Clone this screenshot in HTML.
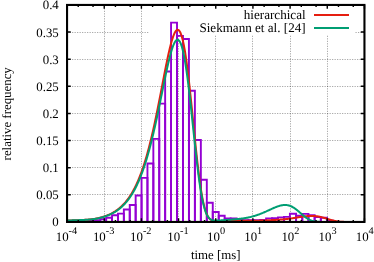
<!DOCTYPE html><html><head><meta charset="utf-8"><style>html,body{margin:0;padding:0;background:#fff}svg{display:block}text{font-family:"Liberation Serif",serif;fill:#000;text-rendering:geometricPrecision}</style></head><body>
<svg width="374" height="262" viewBox="0 0 374 262">
<rect width="374" height="262" fill="#fff"/>
<g stroke="#000" stroke-opacity="0.39" stroke-width="0.9" stroke-dasharray="1.2 1.3" fill="none">
<path d="M104.50 221.95 V4.95"/>
<path d="M141.50 221.95 V4.95"/>
<path d="M178.50 221.95 V35.00"/>
<path d="M215.50 221.95 V35.00"/>
<path d="M252.50 221.95 V35.00"/>
<path d="M290.50 221.95 V35.00"/>
<path d="M327.50 221.95 V35.00"/>
<path d="M67.05 194.50 H364.45"/>
<path d="M67.05 167.50 H364.45"/>
<path d="M67.05 140.50 H364.45"/>
<path d="M67.05 113.50 H364.45"/>
<path d="M67.05 86.50 H364.45"/>
<path d="M67.05 59.50 H364.45"/>
<path d="M67.05 32.50 H148.50 M355.5 32.50 H364.45"/>
</g>
<g stroke="#9400D3" stroke-width="1.9" fill="none" stroke-linejoin="miter">
<path d="M88.45 221.95 V220.60 H94.35 V221.95"/>
<path d="M94.35 221.95 V220.30 H100.25 V221.95"/>
<path d="M100.25 221.95 V219.30 H106.15 V221.95"/>
<path d="M106.15 221.95 V217.80 H112.05 V221.95"/>
<path d="M112.05 221.95 V215.30 H117.95 V221.95"/>
<path d="M117.95 221.95 V213.60 H123.85 V221.95"/>
<path d="M123.85 221.95 V209.50 H129.75 V221.95"/>
<path d="M129.75 221.95 V205.00 H135.65 V221.95"/>
<path d="M135.65 221.95 V195.50 H141.55 V221.95"/>
<path d="M141.55 221.95 V177.90 H147.45 V221.95"/>
<path d="M147.45 221.95 V163.50 H153.35 V221.95"/>
<path d="M153.35 221.95 V138.90 H159.25 V221.95"/>
<path d="M159.25 221.95 V103.60 H165.15 V221.95"/>
<path d="M165.15 221.95 V71.50 H171.05 V221.95"/>
<path d="M171.05 221.95 V22.60 H177.01 V221.95"/>
<path d="M177.01 221.95 V35.90 H182.97 V221.95"/>
<path d="M182.97 221.95 V39.00 H188.93 V221.95"/>
<path d="M188.93 221.95 V90.80 H194.89 V221.95"/>
<path d="M194.89 221.95 V140.00 H200.85 V221.95"/>
<path d="M200.85 221.95 V179.80 H206.81 V221.95"/>
<path d="M206.81 221.95 V202.80 H212.77 V221.95"/>
<path d="M212.77 221.95 V212.00 H218.73 V221.95"/>
<path d="M218.73 221.95 V215.70 H224.69 V221.95"/>
<path d="M224.69 221.95 V218.40 H230.65 V221.95"/>
<path d="M230.65 221.95 V218.50 H236.61 V221.95"/>
<path d="M236.61 221.95 V220.00 H242.51 V221.95"/>
<path d="M242.51 221.95 V220.30 H248.41 V221.95"/>
<path d="M248.41 221.95 V220.30 H254.30 V221.95"/>
<path d="M254.30 221.95 V220.30 H260.20 V221.95"/>
<path d="M260.20 221.95 V220.00 H266.10 V221.95"/>
<path d="M266.10 221.95 V218.40 H272.05 V221.95"/>
<path d="M272.05 221.95 V218.10 H278.00 V221.95"/>
<path d="M278.00 221.95 V217.40 H283.95 V221.95"/>
<path d="M283.95 221.95 V216.90 H289.90 V221.95"/>
<path d="M289.90 221.95 V213.80 H296.08 V221.95"/>
<path d="M296.08 221.95 V215.80 H302.27 V221.95"/>
<path d="M302.27 221.95 V213.90 H308.45 V221.95"/>
<path d="M308.45 221.95 V215.10 H314.63 V221.95"/>
<path d="M314.63 221.95 V217.10 H320.82 V221.95"/>
<path d="M320.82 221.95 V217.80 H327.00 V221.95"/>
<path d="M327.00 221.95 V220.60 H333.15 V221.95"/>
</g>
<path d="M67.05 220.60 L67.55 220.58 L68.04 220.56 L68.54 220.53 L69.03 220.51 L69.53 220.49 L70.02 220.47 L70.52 220.45 L71.02 220.43 L71.51 220.41 L72.01 220.39 L72.50 220.37 L73.00 220.35 L73.49 220.33 L73.99 220.32 L74.48 220.30 L74.98 220.28 L75.48 220.26 L75.97 220.24 L76.47 220.22 L76.96 220.20 L77.46 220.18 L77.95 220.16 L78.45 220.14 L78.95 220.12 L79.44 220.10 L79.94 220.08 L80.43 220.06 L80.93 220.04 L81.42 220.02 L81.92 219.99 L82.42 219.97 L82.91 219.95 L83.41 219.92 L83.90 219.89 L84.40 219.87 L84.89 219.84 L85.39 219.81 L85.89 219.77 L86.38 219.74 L86.88 219.70 L87.37 219.67 L87.87 219.63 L88.36 219.58 L88.86 219.54 L89.36 219.49 L89.85 219.44 L90.35 219.39 L90.84 219.34 L91.34 219.28 L91.83 219.22 L92.33 219.16 L92.82 219.09 L93.32 219.02 L93.82 218.94 L94.31 218.87 L94.81 218.79 L95.30 218.70 L95.80 218.61 L96.29 218.52 L96.79 218.43 L97.29 218.33 L97.78 218.22 L98.28 218.12 L98.77 218.00 L99.27 217.89 L99.76 217.77 L100.26 217.64 L100.76 217.51 L101.25 217.38 L101.75 217.24 L102.24 217.10 L102.74 216.95 L103.23 216.80 L103.73 216.64 L104.22 216.48 L104.72 216.31 L105.22 216.14 L105.71 215.96 L106.21 215.78 L106.70 215.59 L107.20 215.39 L107.69 215.19 L108.19 214.98 L108.69 214.77 L109.18 214.55 L109.68 214.32 L110.17 214.08 L110.67 213.84 L111.16 213.60 L111.66 213.34 L112.16 213.08 L112.65 212.80 L113.15 212.52 L113.64 212.24 L114.14 211.94 L114.63 211.63 L115.13 211.32 L115.63 210.99 L116.12 210.66 L116.62 210.31 L117.11 209.96 L117.61 209.60 L118.10 209.22 L118.60 208.83 L119.09 208.44 L119.59 208.03 L120.09 207.60 L120.58 207.17 L121.08 206.72 L121.57 206.26 L122.07 205.79 L122.56 205.30 L123.06 204.80 L123.56 204.28 L124.05 203.75 L124.55 203.21 L125.04 202.65 L125.54 202.07 L126.03 201.47 L126.53 200.86 L127.03 200.23 L127.52 199.59 L128.02 198.92 L128.51 198.24 L129.01 197.53 L129.50 196.81 L130.00 196.07 L130.50 195.30 L130.99 194.52 L131.49 193.71 L131.98 192.89 L132.48 192.03 L132.97 191.16 L133.47 190.26 L133.96 189.34 L134.46 188.39 L134.96 187.42 L135.45 186.42 L135.95 185.40 L136.44 184.35 L136.94 183.27 L137.43 182.16 L137.93 181.03 L138.43 179.87 L138.92 178.67 L139.42 177.45 L139.91 176.20 L140.41 174.91 L140.90 173.59 L141.40 172.25 L141.90 170.87 L142.39 169.45 L142.89 168.00 L143.38 166.52 L143.88 165.01 L144.37 163.46 L144.87 161.87 L145.37 160.25 L145.86 158.60 L146.36 156.91 L146.85 155.18 L147.35 153.41 L147.84 151.61 L148.34 149.78 L148.83 147.90 L149.33 145.99 L149.83 144.04 L150.32 142.06 L150.82 140.04 L151.31 137.99 L151.81 135.89 L152.30 133.77 L152.80 131.60 L153.30 129.41 L153.79 127.18 L154.29 124.92 L154.78 122.62 L155.28 120.30 L155.77 117.94 L156.27 115.56 L156.77 113.14 L157.26 110.71 L157.76 108.24 L158.25 105.76 L158.75 103.25 L159.24 100.73 L159.74 98.19 L160.24 95.63 L160.73 93.07 L161.23 90.49 L161.72 87.91 L162.22 85.33 L162.71 82.75 L163.21 80.17 L163.70 77.60 L164.20 75.04 L164.70 72.50 L165.19 69.98 L165.69 67.48 L166.18 65.01 L166.68 62.58 L167.17 60.18 L167.67 57.83 L168.17 55.53 L168.66 53.29 L169.16 51.11 L169.65 48.99 L170.15 46.95 L170.64 44.99 L171.14 43.12 L171.64 41.34 L172.13 39.67 L172.63 38.10 L173.12 36.64 L173.62 35.31 L174.11 34.10 L174.61 33.03 L175.11 32.10 L175.60 31.32 L176.10 30.70 L176.59 30.24 L177.09 29.94 L177.58 29.82 L178.08 29.88 L178.57 30.13 L179.07 30.56 L179.57 31.20 L180.06 32.03 L180.56 33.06 L181.05 34.30 L181.55 35.75 L182.04 37.40 L182.54 39.27 L183.04 41.35 L183.53 43.64 L184.03 46.14 L184.52 48.85 L185.02 51.76 L185.51 54.87 L186.01 58.17 L186.51 61.66 L187.00 65.33 L187.50 69.17 L187.99 73.18 L188.49 77.34 L188.98 81.64 L189.48 86.07 L189.98 90.62 L190.47 95.27 L190.97 100.01 L191.46 104.82 L191.96 109.69 L192.45 114.61 L192.95 119.54 L193.44 124.49 L193.94 129.43 L194.44 134.34 L194.93 139.21 L195.43 144.02 L195.92 148.76 L196.42 153.40 L196.91 157.94 L197.41 162.37 L197.91 166.66 L198.40 170.81 L198.90 174.80 L199.39 178.63 L199.89 182.29 L200.38 185.77 L200.88 189.06 L201.38 192.17 L201.87 195.09 L202.37 197.82 L202.86 200.36 L203.36 202.71 L203.85 204.87 L204.35 206.85 L204.85 208.66 L205.34 210.31 L205.84 211.79 L206.33 213.11 L206.83 214.30 L207.32 215.34 L207.82 216.27 L208.31 217.08 L208.81 217.78 L209.31 218.38 L209.80 218.90 L210.30 219.34 L210.79 219.71 L211.29 220.02 L211.78 220.28 L212.28 220.49 L212.78 220.66 L213.27 220.79 L213.77 220.90 L214.26 220.98 L214.76 221.04 L215.25 221.09 L215.75 221.12 L216.25 221.14 L216.74 221.15 L217.24 221.16 L217.73 221.16 L218.23 221.15 L218.72 221.15 L219.22 221.13 L219.72 221.12 L220.21 221.11 L220.71 221.10 L221.20 221.08 L221.70 221.07 L222.19 221.05 L222.69 221.03 L223.19 221.02 L223.68 221.00 L224.18 220.98 L224.67 220.97 L225.17 220.95 L225.66 220.94 L226.16 220.92 L226.65 220.91 L227.15 220.89 L227.65 220.88 L228.14 220.86 L228.64 220.85 L229.13 220.83 L229.63 220.82 L230.12 220.80 L230.62 220.79 L231.12 220.78 L231.61 220.77 L232.11 220.75 L232.60 220.74 L233.10 220.73 L233.59 220.72 L234.09 220.71 L234.59 220.70 L235.08 220.70 L235.58 220.69 L236.07 220.68 L236.57 220.68 L237.06 220.67 L237.56 220.67 L238.05 220.66 L238.55 220.66 L239.05 220.65 L239.54 220.65 L240.04 220.65 L240.53 220.65 L241.03 220.65 L241.52 220.65 L242.02 220.65 L242.52 220.65 L243.01 220.65 L243.51 220.66 L244.00 220.66 L244.50 220.66 L244.99 220.67 L245.49 220.67 L245.99 220.67 L246.48 220.68 L246.98 220.68 L247.47 220.69 L247.97 220.69 L248.46 220.69 L248.96 220.70 L249.46 220.70 L249.95 220.71 L250.45 220.71 L250.94 220.71 L251.44 220.71 L251.93 220.71 L252.43 220.71 L252.93 220.71 L253.42 220.71 L253.92 220.71 L254.41 220.71 L254.91 220.70 L255.40 220.70 L255.90 220.69 L256.39 220.69 L256.89 220.68 L257.39 220.67 L257.88 220.66 L258.38 220.65 L258.87 220.64 L259.37 220.63 L259.86 220.61 L260.36 220.60 L260.86 220.58 L261.35 220.57 L261.85 220.55 L262.34 220.53 L262.84 220.51 L263.33 220.49 L263.83 220.47 L264.33 220.45 L264.82 220.43 L265.32 220.41 L265.81 220.39 L266.31 220.37 L266.80 220.35 L267.30 220.32 L267.80 220.30 L268.29 220.28 L268.79 220.25 L269.28 220.23 L269.78 220.21 L270.27 220.18 L270.77 220.16 L271.26 220.13 L271.76 220.11 L272.26 220.08 L272.75 220.06 L273.25 220.03 L273.74 220.01 L274.24 219.98 L274.73 219.95 L275.23 219.92 L275.73 219.90 L276.22 219.87 L276.72 219.84 L277.21 219.81 L277.71 219.78 L278.20 219.75 L278.70 219.71 L279.20 219.68 L279.69 219.64 L280.19 219.61 L280.68 219.57 L281.18 219.53 L281.67 219.49 L282.17 219.45 L282.66 219.41 L283.16 219.37 L283.66 219.32 L284.15 219.27 L284.65 219.22 L285.14 219.17 L285.64 219.12 L286.13 219.07 L286.63 219.01 L287.13 218.96 L287.62 218.90 L288.12 218.84 L288.61 218.78 L289.11 218.71 L289.60 218.65 L290.10 218.58 L290.60 218.51 L291.09 218.44 L291.59 218.37 L292.08 218.30 L292.58 218.22 L293.07 218.15 L293.57 218.07 L294.07 218.00 L294.56 217.92 L295.06 217.84 L295.55 217.76 L296.05 217.68 L296.54 217.61 L297.04 217.53 L297.53 217.45 L298.03 217.37 L298.53 217.29 L299.02 217.21 L299.52 217.13 L300.01 217.05 L300.51 216.98 L301.00 216.90 L301.50 216.83 L302.00 216.76 L302.49 216.69 L302.99 216.62 L303.48 216.55 L303.98 216.48 L304.47 216.42 L304.97 216.36 L305.47 216.31 L305.96 216.25 L306.46 216.20 L306.95 216.16 L307.45 216.11 L307.94 216.07 L308.44 216.04 L308.94 216.01 L309.43 215.98 L309.93 215.96 L310.42 215.95 L310.92 215.93 L311.41 215.93 L311.91 215.93 L312.40 215.93 L312.90 215.95 L313.40 215.96 L313.89 215.99 L314.39 216.02 L314.88 216.06 L315.38 216.10 L315.87 216.15 L316.37 216.21 L316.87 216.27 L317.36 216.34 L317.86 216.41 L318.35 216.50 L318.85 216.59 L319.34 216.68 L319.84 216.78 L320.34 216.89 L320.83 217.01 L321.33 217.12 L321.82 217.25 L322.32 217.38 L322.81 217.51 L323.31 217.65 L323.81 217.79 L324.30 217.94 L324.80 218.08 L325.29 218.23 L325.79 218.39 L326.28 218.54 L326.78 218.69 L327.27 218.85 L327.77 219.01 L328.27 219.16 L328.76 219.31 L329.26 219.46 L329.75 219.61 L330.25 219.76 L330.74 219.91 L331.24 220.05 L331.74 220.18 L332.23 220.31 L332.73 220.44 L333.22 220.56 L333.72 220.68 L334.21 220.79 L334.71 220.90 L335.21 221.00 L335.70 221.09 L336.20 221.18 L336.69 221.26 L337.19 221.33 L337.68 221.40 L338.18 221.47 L338.68 221.53 L339.17 221.58 L339.67 221.63 L340.16 221.67 L340.66 221.71 L341.15 221.75 L341.65 221.78 L342.14 221.80 L342.64 221.83 L343.14 221.85 L343.63 221.87 L344.13 221.88 L344.62 221.89 L345.12 221.90 L345.61 221.91 L346.11 221.92 L346.61 221.93 L347.10 221.93 L347.60 221.94 L348.09 221.94 L348.59 221.94 L349.08 221.94 L349.58 221.95 L350.08 221.95 L350.57 221.95 L351.07 221.95 L351.56 221.95 L352.06 221.95 L352.55 221.95 L353.05 221.95 L353.55 221.95 L354.04 221.95 L354.54 221.95 L355.03 221.95 L355.53 221.95 L356.02 221.95 L356.52 221.95 L357.01 221.95 L357.51 221.95 L358.01 221.95 L358.50 221.95 L359.00 221.95 L359.49 221.95 L359.99 221.95 L360.48 221.95 L360.98 221.95 L361.48 221.95 L361.97 221.95 L362.47 221.95 L362.96 221.95 L363.46 221.95 L363.95 221.95 L364.45 221.95" stroke="#E51E10" stroke-width="2" fill="none" stroke-linejoin="round"/>
<path d="M67.05 220.57 L67.55 220.55 L68.04 220.53 L68.54 220.51 L69.03 220.49 L69.53 220.47 L70.02 220.45 L70.52 220.43 L71.02 220.41 L71.51 220.39 L72.01 220.37 L72.50 220.35 L73.00 220.34 L73.49 220.32 L73.99 220.30 L74.48 220.28 L74.98 220.27 L75.48 220.25 L75.97 220.23 L76.47 220.21 L76.96 220.20 L77.46 220.18 L77.95 220.16 L78.45 220.15 L78.95 220.13 L79.44 220.11 L79.94 220.09 L80.43 220.08 L80.93 220.06 L81.42 220.04 L81.92 220.02 L82.42 220.00 L82.91 219.98 L83.41 219.95 L83.90 219.93 L84.40 219.91 L84.89 219.88 L85.39 219.85 L85.89 219.83 L86.38 219.79 L86.88 219.76 L87.37 219.73 L87.87 219.69 L88.36 219.66 L88.86 219.62 L89.36 219.57 L89.85 219.53 L90.35 219.48 L90.84 219.43 L91.34 219.38 L91.83 219.32 L92.33 219.26 L92.82 219.20 L93.32 219.13 L93.82 219.06 L94.31 218.99 L94.81 218.92 L95.30 218.84 L95.80 218.75 L96.29 218.67 L96.79 218.58 L97.29 218.48 L97.78 218.38 L98.28 218.28 L98.77 218.17 L99.27 218.06 L99.76 217.95 L100.26 217.83 L100.76 217.71 L101.25 217.58 L101.75 217.45 L102.24 217.31 L102.74 217.17 L103.23 217.03 L103.73 216.87 L104.22 216.72 L104.72 216.56 L105.22 216.39 L105.71 216.22 L106.21 216.05 L106.70 215.87 L107.20 215.68 L107.69 215.49 L108.19 215.29 L108.69 215.08 L109.18 214.87 L109.68 214.66 L110.17 214.43 L110.67 214.20 L111.16 213.96 L111.66 213.72 L112.16 213.47 L112.65 213.21 L113.15 212.94 L113.64 212.66 L114.14 212.38 L114.63 212.09 L115.13 211.79 L115.63 211.48 L116.12 211.16 L116.62 210.83 L117.11 210.49 L117.61 210.14 L118.10 209.78 L118.60 209.41 L119.09 209.03 L119.59 208.64 L120.09 208.24 L120.58 207.82 L121.08 207.40 L121.57 206.96 L122.07 206.50 L122.56 206.04 L123.06 205.56 L123.56 205.07 L124.05 204.56 L124.55 204.04 L125.04 203.50 L125.54 202.95 L126.03 202.38 L126.53 201.80 L127.03 201.20 L127.52 200.58 L128.02 199.94 L128.51 199.29 L129.01 198.62 L129.50 197.93 L130.00 197.22 L130.50 196.49 L130.99 195.74 L131.49 194.97 L131.98 194.18 L132.48 193.37 L132.97 192.53 L133.47 191.67 L133.96 190.79 L134.46 189.89 L134.96 188.96 L135.45 188.01 L135.95 187.03 L136.44 186.03 L136.94 185.00 L137.43 183.94 L137.93 182.86 L138.43 181.75 L138.92 180.61 L139.42 179.44 L139.91 178.25 L140.41 177.02 L140.90 175.76 L141.40 174.48 L141.90 173.16 L142.39 171.81 L142.89 170.43 L143.38 169.02 L143.88 167.57 L144.37 166.09 L144.87 164.58 L145.37 163.04 L145.86 161.46 L146.36 159.84 L146.85 158.20 L147.35 156.51 L147.84 154.80 L148.34 153.05 L148.83 151.26 L149.33 149.44 L149.83 147.59 L150.32 145.70 L150.82 143.77 L151.31 141.81 L151.81 139.82 L152.30 137.80 L152.80 135.74 L153.30 133.65 L153.79 131.52 L154.29 129.37 L154.78 127.19 L155.28 124.97 L155.77 122.73 L156.27 120.47 L156.77 118.17 L157.26 115.85 L157.76 113.51 L158.25 111.15 L158.75 108.77 L159.24 106.38 L159.74 103.96 L160.24 101.54 L160.73 99.10 L161.23 96.66 L161.72 94.21 L162.22 91.76 L162.71 89.32 L163.21 86.87 L163.70 84.44 L164.20 82.02 L164.70 79.61 L165.19 77.23 L165.69 74.87 L166.18 72.53 L166.68 70.23 L167.17 67.98 L167.67 65.76 L168.17 63.59 L168.66 61.48 L169.16 59.43 L169.65 57.44 L170.15 55.53 L170.64 53.69 L171.14 51.94 L171.64 50.28 L172.13 48.72 L172.63 47.26 L173.12 45.91 L173.62 44.68 L174.11 43.57 L174.61 42.59 L175.11 41.74 L175.60 41.04 L176.10 40.49 L176.59 40.10 L177.09 39.86 L177.58 39.79 L178.08 39.89 L178.57 40.17 L179.07 40.64 L179.57 41.28 L180.06 42.12 L180.56 43.15 L181.05 44.38 L181.55 45.80 L182.04 47.42 L182.54 49.25 L183.04 51.27 L183.53 53.49 L184.03 55.91 L184.52 58.53 L185.02 61.34 L185.51 64.33 L186.01 67.51 L186.51 70.86 L187.00 74.38 L187.50 78.07 L187.99 81.90 L188.49 85.88 L188.98 89.98 L189.48 94.21 L189.98 98.55 L190.47 102.97 L190.97 107.48 L191.46 112.05 L191.96 116.68 L192.45 121.34 L192.95 126.02 L193.44 130.70 L193.94 135.37 L194.44 140.01 L194.93 144.60 L195.43 149.14 L195.92 153.60 L196.42 157.97 L196.91 162.24 L197.41 166.39 L197.91 170.42 L198.40 174.30 L198.90 178.04 L199.39 181.62 L199.89 185.03 L200.38 188.27 L200.88 191.34 L201.38 194.23 L201.87 196.94 L202.37 199.46 L202.86 201.81 L203.36 203.98 L203.85 205.98 L204.35 207.80 L204.85 209.46 L205.34 210.97 L205.84 212.32 L206.33 213.53 L206.83 214.60 L207.32 215.55 L207.82 216.39 L208.31 217.11 L208.81 217.74 L209.31 218.28 L209.80 218.74 L210.30 219.13 L210.79 219.45 L211.29 219.72 L211.78 219.94 L212.28 220.11 L212.78 220.25 L213.27 220.36 L213.77 220.44 L214.26 220.50 L214.76 220.54 L215.25 220.56 L215.75 220.58 L216.25 220.58 L216.74 220.58 L217.24 220.56 L217.73 220.55 L218.23 220.53 L218.72 220.50 L219.22 220.48 L219.72 220.45 L220.21 220.42 L220.71 220.39 L221.20 220.36 L221.70 220.33 L222.19 220.30 L222.69 220.26 L223.19 220.23 L223.68 220.19 L224.18 220.16 L224.67 220.12 L225.17 220.09 L225.66 220.05 L226.16 220.02 L226.65 219.98 L227.15 219.94 L227.65 219.91 L228.14 219.87 L228.64 219.83 L229.13 219.79 L229.63 219.76 L230.12 219.72 L230.62 219.68 L231.12 219.64 L231.61 219.60 L232.11 219.56 L232.60 219.51 L233.10 219.47 L233.59 219.43 L234.09 219.39 L234.59 219.34 L235.08 219.30 L235.58 219.25 L236.07 219.20 L236.57 219.16 L237.06 219.11 L237.56 219.06 L238.05 219.00 L238.55 218.95 L239.05 218.90 L239.54 218.84 L240.04 218.78 L240.53 218.73 L241.03 218.66 L241.52 218.60 L242.02 218.54 L242.52 218.47 L243.01 218.40 L243.51 218.33 L244.00 218.25 L244.50 218.18 L244.99 218.10 L245.49 218.01 L245.99 217.93 L246.48 217.84 L246.98 217.75 L247.47 217.65 L247.97 217.55 L248.46 217.45 L248.96 217.34 L249.46 217.24 L249.95 217.12 L250.45 217.01 L250.94 216.89 L251.44 216.76 L251.93 216.63 L252.43 216.50 L252.93 216.37 L253.42 216.23 L253.92 216.08 L254.41 215.94 L254.91 215.79 L255.40 215.63 L255.90 215.47 L256.39 215.31 L256.89 215.14 L257.39 214.97 L257.88 214.80 L258.38 214.62 L258.87 214.44 L259.37 214.26 L259.86 214.07 L260.36 213.88 L260.86 213.68 L261.35 213.49 L261.85 213.29 L262.34 213.08 L262.84 212.88 L263.33 212.67 L263.83 212.46 L264.33 212.24 L264.82 212.03 L265.32 211.81 L265.81 211.59 L266.31 211.37 L266.80 211.14 L267.30 210.92 L267.80 210.69 L268.29 210.46 L268.79 210.24 L269.28 210.01 L269.78 209.78 L270.27 209.55 L270.77 209.32 L271.26 209.10 L271.76 208.87 L272.26 208.65 L272.75 208.43 L273.25 208.21 L273.74 207.99 L274.24 207.78 L274.73 207.57 L275.23 207.36 L275.73 207.16 L276.22 206.96 L276.72 206.77 L277.21 206.59 L277.71 206.41 L278.20 206.24 L278.70 206.08 L279.20 205.92 L279.69 205.78 L280.19 205.65 L280.68 205.52 L281.18 205.41 L281.67 205.31 L282.17 205.22 L282.66 205.14 L283.16 205.08 L283.66 205.03 L284.15 204.99 L284.65 204.97 L285.14 204.97 L285.64 204.98 L286.13 205.01 L286.63 205.06 L287.13 205.12 L287.62 205.20 L288.12 205.30 L288.61 205.42 L289.11 205.55 L289.60 205.71 L290.10 205.88 L290.60 206.07 L291.09 206.28 L291.59 206.51 L292.08 206.76 L292.58 207.02 L293.07 207.31 L293.57 207.61 L294.07 207.92 L294.56 208.25 L295.06 208.60 L295.55 208.96 L296.05 209.33 L296.54 209.72 L297.04 210.11 L297.53 210.52 L298.03 210.94 L298.53 211.36 L299.02 211.79 L299.52 212.22 L300.01 212.65 L300.51 213.09 L301.00 213.53 L301.50 213.97 L302.00 214.40 L302.49 214.83 L302.99 215.25 L303.48 215.67 L303.98 216.08 L304.47 216.48 L304.97 216.86 L305.47 217.24 L305.96 217.60 L306.46 217.95 L306.95 218.28 L307.45 218.60 L307.94 218.90 L308.44 219.19 L308.94 219.45 L309.43 219.71 L309.93 219.94 L310.42 220.16 L310.92 220.36 L311.41 220.55 L311.91 220.72 L312.40 220.87 L312.90 221.01 L313.40 221.14 L313.89 221.25 L314.39 221.35 L314.88 221.44 L315.38 221.52 L315.87 221.59 L316.37 221.65 L316.87 221.70 L317.36 221.74 L317.86 221.78 L318.35 221.81 L318.85 221.84 L319.34 221.86 L319.84 221.88 L320.34 221.89 L320.83 221.91 L321.33 221.92 L321.82 221.92 L322.32 221.93 L322.81 221.94 L323.31 221.94 L323.81 221.94 L324.30 221.94 L324.80 221.95 L325.29 221.95 L325.79 221.95 L326.28 221.95 L326.78 221.95 L327.27 221.95 L327.77 221.95 L328.27 221.95 L328.76 221.95 L329.26 221.95 L329.75 221.95 L330.25 221.95 L330.74 221.95 L331.24 221.95 L331.74 221.95 L332.23 221.95 L332.73 221.95 L333.22 221.95 L333.72 221.95 L334.21 221.95 L334.71 221.95 L335.21 221.95 L335.70 221.95 L336.20 221.95 L336.69 221.95 L337.19 221.95 L337.68 221.95 L338.18 221.95 L338.68 221.95 L339.17 221.95 L339.67 221.95 L340.16 221.95 L340.66 221.95 L341.15 221.95 L341.65 221.95 L342.14 221.95 L342.64 221.95 L343.14 221.95 L343.63 221.95 L344.13 221.95 L344.62 221.95 L345.12 221.95 L345.61 221.95 L346.11 221.95 L346.61 221.95 L347.10 221.95 L347.60 221.95 L348.09 221.95 L348.59 221.95 L349.08 221.95 L349.58 221.95 L350.08 221.95 L350.57 221.95 L351.07 221.95 L351.56 221.95 L352.06 221.95 L352.55 221.95 L353.05 221.95 L353.55 221.95 L354.04 221.95 L354.54 221.95 L355.03 221.95 L355.53 221.95 L356.02 221.95 L356.52 221.95 L357.01 221.95 L357.51 221.95 L358.01 221.95 L358.50 221.95 L359.00 221.95 L359.49 221.95 L359.99 221.95 L360.48 221.95 L360.98 221.95 L361.48 221.95 L361.97 221.95 L362.47 221.95 L362.96 221.95 L363.46 221.95 L363.95 221.95 L364.45 221.95" stroke="#009E73" stroke-width="2" fill="none" stroke-linejoin="round"/>
<path d="M314 15 H349" stroke="#E51E10" stroke-width="2"/>
<path d="M314 28.05 H349" stroke="#009E73" stroke-width="2"/>
<g stroke="#000" stroke-width="1.4" fill="none">
<path d="M67.05 221.95 v-3.7 M67.05 4.95 v3.7"/>
<path d="M78.24 221.95 v-2 M78.24 4.95 v2"/>
<path d="M93.03 221.95 v-2 M93.03 4.95 v2"/>
<path d="M104.22 221.95 v-3.7 M104.22 4.95 v3.7"/>
<path d="M115.42 221.95 v-2 M115.42 4.95 v2"/>
<path d="M130.21 221.95 v-2 M130.21 4.95 v2"/>
<path d="M141.40 221.95 v-3.7 M141.40 4.95 v3.7"/>
<path d="M152.59 221.95 v-2 M152.59 4.95 v2"/>
<path d="M167.38 221.95 v-2 M167.38 4.95 v2"/>
<path d="M178.57 221.95 v-3.7 M178.57 4.95 v3.7"/>
<path d="M189.77 221.95 v-2 M189.77 4.95 v2"/>
<path d="M204.56 221.95 v-2 M204.56 4.95 v2"/>
<path d="M215.75 221.95 v-3.7 M215.75 4.95 v3.7"/>
<path d="M226.94 221.95 v-2 M226.94 4.95 v2"/>
<path d="M241.73 221.95 v-2 M241.73 4.95 v2"/>
<path d="M252.93 221.95 v-3.7 M252.93 4.95 v3.7"/>
<path d="M264.12 221.95 v-2 M264.12 4.95 v2"/>
<path d="M278.91 221.95 v-2 M278.91 4.95 v2"/>
<path d="M290.10 221.95 v-3.7 M290.10 4.95 v3.7"/>
<path d="M301.29 221.95 v-2 M301.29 4.95 v2"/>
<path d="M316.08 221.95 v-2 M316.08 4.95 v2"/>
<path d="M327.27 221.95 v-3.7 M327.27 4.95 v3.7"/>
<path d="M338.47 221.95 v-2 M338.47 4.95 v2"/>
<path d="M353.26 221.95 v-2 M353.26 4.95 v2"/>
<path d="M364.45 221.95 v-3.7 M364.45 4.95 v3.7"/>
<path d="M67.05 221.95 h3.7 M364.45 221.95 h-3.7"/>
<path d="M67.05 194.82 h3.7 M364.45 194.82 h-3.7"/>
<path d="M67.05 167.70 h3.7 M364.45 167.70 h-3.7"/>
<path d="M67.05 140.57 h3.7 M364.45 140.57 h-3.7"/>
<path d="M67.05 113.45 h3.7 M364.45 113.45 h-3.7"/>
<path d="M67.05 86.32 h3.7 M364.45 86.32 h-3.7"/>
<path d="M67.05 59.20 h3.7 M364.45 59.20 h-3.7"/>
<path d="M67.05 32.07 h3.7 M364.45 32.07 h-3.7"/>
<path d="M67.05 4.95 h3.7 M364.45 4.95 h-3.7"/>
</g>
<rect x="67.05" y="4.95" width="297.40" height="217.00" fill="none" stroke="#000" stroke-width="2.1"/>
<defs><filter id="f" filterUnits="userSpaceOnUse" x="0" y="0" width="374" height="262"><feOffset dx="0" dy="0"/></filter></defs><g filter="url(#f)">
<text x="58.8" y="226.45" font-size="12.87" text-anchor="end">0</text>
<text x="58.8" y="199.32" font-size="12.87" text-anchor="end">0.05</text>
<text x="58.8" y="172.20" font-size="12.87" text-anchor="end">0.1</text>
<text x="58.8" y="145.07" font-size="12.87" text-anchor="end">0.15</text>
<text x="58.8" y="117.95" font-size="12.87" text-anchor="end">0.2</text>
<text x="58.8" y="90.82" font-size="12.87" text-anchor="end">0.25</text>
<text x="58.8" y="63.70" font-size="12.87" text-anchor="end">0.3</text>
<text x="58.8" y="36.57" font-size="12.87" text-anchor="end">0.35</text>
<text x="58.8" y="9.45" font-size="12.87" text-anchor="end">0.4</text>
<text x="66.45" y="240.9" font-size="12.87" text-anchor="middle">10<tspan font-size="10.3" dy="-6.5">-4</tspan></text>
<text x="103.62" y="240.9" font-size="12.87" text-anchor="middle">10<tspan font-size="10.3" dy="-6.5">-3</tspan></text>
<text x="140.80" y="240.9" font-size="12.87" text-anchor="middle">10<tspan font-size="10.3" dy="-6.5">-2</tspan></text>
<text x="177.97" y="240.9" font-size="12.87" text-anchor="middle">10<tspan font-size="10.3" dy="-6.5">-1</tspan></text>
<text x="216.05" y="240.9" font-size="12.87" text-anchor="middle">10<tspan font-size="10.3" dy="-6.5">0</tspan></text>
<text x="253.23" y="240.9" font-size="12.87" text-anchor="middle">10<tspan font-size="10.3" dy="-6.5">1</tspan></text>
<text x="290.40" y="240.9" font-size="12.87" text-anchor="middle">10<tspan font-size="10.3" dy="-6.5">2</tspan></text>
<text x="327.57" y="240.9" font-size="12.87" text-anchor="middle">10<tspan font-size="10.3" dy="-6.5">3</tspan></text>
<text x="364.75" y="240.9" font-size="12.87" text-anchor="middle">10<tspan font-size="10.3" dy="-6.5">4</tspan></text>
<text x="215.8" y="259.2" font-size="12.87" text-anchor="middle">time [ms]</text>
<text transform="translate(10.7 113.8) rotate(-90)" font-size="12.87" text-anchor="middle">relative frequency</text>
<text x="305.6" y="19.3" font-size="13.1" text-anchor="end">hierarchical</text>
<text x="305.6" y="32.3" font-size="13.1" text-anchor="end">Siekmann et al. [24]</text>
</g>
</svg></body></html>
